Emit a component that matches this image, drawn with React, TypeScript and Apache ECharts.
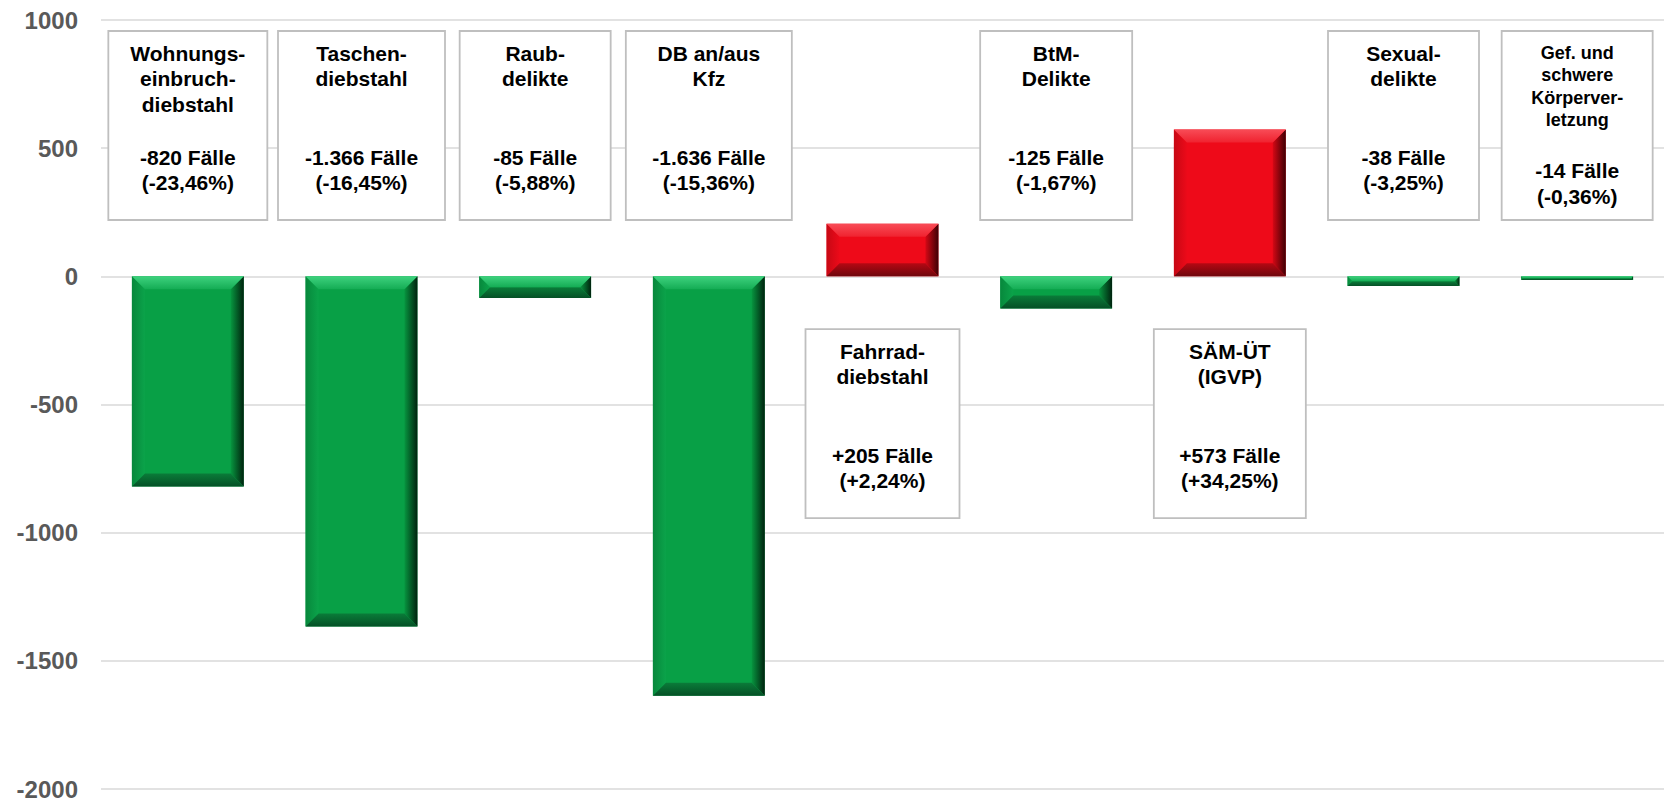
import React, { useEffect, useRef } from "react";
import * as echarts from "echarts";

// ---------- data ----------
const categories = [
  "Wohnungseinbruchdiebstahl",
  "Taschendiebstahl",
  "Raubdelikte",
  "DB an/aus Kfz",
  "Fahrraddiebstahl",
  "BtM-Delikte",
  "SÄM-ÜT (IGVP)",
  "Sexualdelikte",
  "Gef. und schwere Körperverletzung",
];
const boxTitles = [
  "Wohnungs-\neinbruch-\ndiebstahl",
  "Taschen-\ndiebstahl",
  "Raub-\ndelikte",
  "DB an/aus\nKfz",
  "Fahrrad-\ndiebstahl",
  "BtM-\nDelikte",
  "SÄM-ÜT\n(IGVP)",
  "Sexual-\ndelikte",
  "Gef. und\nschwere\nKörperver-\nletzung",
];
const changeCases = [-820, -1366, -85, -1636, 205, -125, 573, -38, -14];
const changePercent = [-23.46, -16.45, -5.88, -15.36, 2.24, -1.67, 34.25, -3.25, -0.36];
const yTicks = { min: -2000, max: 1000, interval: 500 };

// ---------- layout / style ----------
const BAR_RATIO = 0.644;
const BOX_WIDTHS = [159, 167, 151, 166, 154, 152, 152, 151, 151];
const BOX_HEIGHT = 189;
const BOX_TOP_UPPER = 957; // value-axis position of boxes above the bars
const BOX_TOP_LOWER = -206; // value-axis position of boxes below the bars
const FONT = "'Liberation Sans', Arial, sans-serif";

const GREEN = {
  main: "#08A046",
  top0: "#3ED27E",
  top1: "#14AC54",
  left0: "#07883C",
  left1: "#0BA34A",
  right0: "#07953F",
  right1: "#00220E",
  bot0: "#0A7C39",
  bot1: "#055026",
};
const RED = {
  main: "#EE0A19",
  top0: "#F84C57",
  top1: "#F0222F",
  left0: "#C70814",
  left1: "#EC0A19",
  right0: "#D50815",
  right1: "#3E0004",
  bot0: "#B50813",
  bot1: "#6E070D",
};

function fmtInt(n: number): string {
  const s = Math.abs(n).toString().replace(/\B(?=(\d{3})+(?!\d))/g, ".");
  return (n < 0 ? "-" : "+") + s;
}
function fmtPct(p: number): string {
  const s = Math.abs(p).toFixed(2).replace(".", ",");
  return (p < 0 ? "-" : "+") + s + "%";
}

export default function App() {
  const ref = useRef<HTMLDivElement>(null);

  useEffect(() => {
    if (!ref.current) return;
    const chart = echarts.init(ref.current, null, { renderer: "svg" });
    const LG = echarts.graphic.LinearGradient;

    const barData = changeCases.map((v) => ({
      value: v,
      itemStyle: { color: v < 0 ? GREEN.main : RED.main },
    }));

    const bevelData = changeCases.map((v, i) => [i, v]);
    const boxData = changeCases.map((v, i) => [i, v < 0 ? BOX_TOP_UPPER : BOX_TOP_LOWER]);

    const option: any = {
      animation: false,
      backgroundColor: "#ffffff",
      grid: { left: 101, top: 20, width: 1565, height: 771, containLabel: false },
      xAxis: {
        type: "category",
        data: categories,
        axisLine: { show: false },
        axisTick: { show: false },
        axisLabel: { show: false },
        splitLine: { show: false },
      },
      yAxis: {
        type: "value",
        min: yTicks.min,
        max: yTicks.max,
        interval: yTicks.interval,
        axisLine: { show: false },
        axisTick: { show: false },
        axisLabel: {
          color: "#595959",
          fontSize: 24,
          fontWeight: "bold",
          fontFamily: FONT,
          margin: 23,
          formatter: (v: number) => String(v),
        },
        splitLine: { lineStyle: { color: "#D9D9D9", width: 1.5 } },
      },
      series: [
        {
          type: "bar",
          data: barData,
          barWidth: BAR_RATIO * 100 + "%",
          z: 2,
        },
        {
          type: "custom",
          data: bevelData,
          z: 3,
          silent: true,
          clip: false,
          renderItem: (params: any, api: any) => {
            const i = api.value(0);
            const v = api.value(1);
            const a = api.coord([i, 0]);
            const b = api.coord([i, v]);
            const w = api.size([1, 0])[0] * BAR_RATIO;
            const x0 = a[0] - w / 2;
            const x1 = a[0] + w / 2;
            const y0 = Math.min(a[1], b[1]);
            const y1 = Math.max(a[1], b[1]);
            const h = y1 - y0;
            const e = Math.min(13, h / 2, w / 2);
            const p = v < 0 ? GREEN : RED;
            return {
              type: "group",
              silent: true,
              children: [
                {
                  type: "polygon",
                  shape: { points: [[x0, y0], [x0 + e, y0 + e], [x0 + e, y1 - e], [x0, y1]] },
                  style: { fill: new LG(0, 0, 1, 0, [{ offset: 0, color: p.left0 }, { offset: 1, color: p.left1 }]) },
                },
                {
                  type: "polygon",
                  shape: { points: [[x1, y0], [x1, y1], [x1 - e, y1 - e], [x1 - e, y0 + e]] },
                  style: { fill: new LG(0, 0, 1, 0, [{ offset: 0, color: p.right0 }, { offset: 1, color: p.right1 }]) },
                },
                {
                  type: "polygon",
                  shape: { points: [[x0, y1], [x1, y1], [x1 - e, y1 - e], [x0 + e, y1 - e]] },
                  style: { fill: new LG(0, 0, 0, 1, [{ offset: 0, color: p.bot0 }, { offset: 1, color: p.bot1 }]) },
                },
                {
                  type: "polygon",
                  shape: { points: [[x0, y0], [x1, y0], [x1 - e, y0 + e], [x0 + e, y0 + e]] },
                  style: { fill: new LG(0, 0, 0, 1, [{ offset: 0, color: p.top0 }, { offset: 1, color: p.top1 }]) },
                },
              ],
            };
          },
        },
        {
          type: "custom",
          data: boxData,
          z: 4,
          silent: true,
          clip: false,
          renderItem: (params: any, api: any) => {
            const i = api.value(0);
            const topV = api.value(1);
            const c = api.coord([i, topV]);
            const bw = BOX_WIDTHS[i];
            const x = c[0] - bw / 2;
            const y = c[1];
            const title = boxTitles[i];
            const nLines = title.split("\n").length;
            const small = nLines > 3;
            const tSize = small ? 18 : 21;
            const tLh = small ? 22.3 : 25.5;
            const firstCenter = 22;
            const lastTitleCenter = firstCenter + (nLines - 1) * tLh;
            const valCenter = Math.max(126, lastTitleCenter + 51);
            const valText = fmtInt(changeCases[i]) + " Fälle\n(" + fmtPct(changePercent[i]) + ")";
            return {
              type: "group",
              children: [
                {
                  type: "rect",
                  shape: { x, y, width: bw, height: BOX_HEIGHT },
                  style: { fill: "#ffffff", stroke: "#BFBFBF", lineWidth: 1.8 },
                },
                {
                  type: "text",
                  x: c[0],
                  y: y + firstCenter - tLh / 2,
                  style: {
                    text: title,
                    fill: "#000000",
                    font: `bold ${tSize}px ${FONT}`,
                    lineHeight: tLh,
                    align: "center",
                    verticalAlign: "top",
                  },
                },
                {
                  type: "text",
                  x: c[0],
                  y: y + valCenter - 25.5 / 2,
                  style: {
                    text: valText,
                    fill: "#000000",
                    font: `bold 21px ${FONT}`,
                    lineHeight: 25.5,
                    align: "center",
                    verticalAlign: "top",
                  },
                },
              ],
            };
          },
        },
      ],
    };

    chart.setOption(option);
    return () => chart.dispose();
  }, []);

  return (
    <div
      ref={ref}
      style={{ position: "fixed", left: 0, top: 0, width: 1664, height: 801, background: "#fff" }}
    />
  );
}
